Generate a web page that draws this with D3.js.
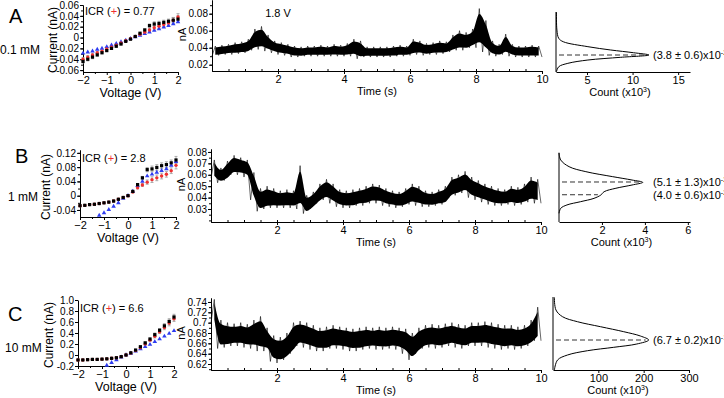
<!DOCTYPE html>
<html><head><meta charset="utf-8">
<script src="https://cdn.jsdelivr.net/npm/d3@7"></script>
<style>body{margin:0;background:#fff}svg{display:block}</style>
</head><body>
<svg id="c" width="724" height="398"></svg>
<script>
// ---------------- DATA ----------------
const voltages = [-2,-1.8,-1.6,-1.4,-1.2,-1,-0.8,-0.6,-0.4,-0.2,0,0.2,0.4,0.6,0.8,1,1.2,1.4,1.6,1.8,2];
const voltTicks = [-2,-1,0,1,2];

// IV curves (nA)
const ivA_black = [-0.044,-0.040,-0.036,-0.032,-0.028,-0.024,-0.020,-0.016,-0.012,-0.007,-0.003,0.002,0.008,0.014,0.022,0.025,0.026,0.028,0.030,0.032,0.034];
const ivA_red   = [-0.040,-0.036,-0.032,-0.028,-0.025,-0.021,-0.018,-0.014,-0.010,-0.006,-0.002,0.002,0.006,0.010,0.014,0.018,0.021,0.024,0.027,0.032,0.038];
const ivA_blue  = [-0.029,-0.027,-0.025,-0.022,-0.020,-0.017,-0.014,-0.011,-0.008,-0.005,-0.002,0.001,0.004,0.007,0.010,0.013,0.016,0.019,0.022,0.025,0.029];
const ivA_err   = [0.003,0.003,0.003,0.002,0.002,0.002,0.002,0.002,0.001,0.001,0.001,0.001,0.001,0.002,0.003,0.004,0.004,0.004,0.004,0.005,0.006];

const ivB_black = [-0.028,-0.027,-0.025,-0.024,-0.022,-0.020,-0.018,-0.015,-0.010,-0.005,0,0.012,0.031,0.050,0.073,0.075,0.079,0.084,0.087,0.092,0.100];
const ivB_red   = [-0.028,-0.027,-0.025,-0.024,-0.022,-0.020,-0.018,-0.015,-0.010,-0.005,0,0.010,0.022,0.030,0.038,0.045,0.050,0.055,0.060,0.070,0.085];
const ivB_blue  = [-0.090,-0.080,-0.071,-0.063,-0.055,-0.048,-0.039,-0.030,-0.020,-0.008,0,0.012,0.028,0.040,0.055,0.060,0.065,0.070,0.075,0.085,0.095];
const ivB_err   = [0.002,0.002,0.002,0.002,0.002,0.002,0.002,0.002,0.002,0.002,0.002,0.002,0.003,0.004,0.006,0.008,0.008,0.008,0.008,0.008,0.010];

const ivC_black = [-0.09,-0.09,-0.085,-0.08,-0.08,-0.075,-0.07,-0.06,-0.05,-0.03,0,0.04,0.09,0.15,0.22,0.29,0.37,0.45,0.53,0.61,0.69];
const ivC_red   = [-0.09,-0.09,-0.085,-0.08,-0.08,-0.075,-0.07,-0.06,-0.05,-0.03,0,0.035,0.08,0.13,0.20,0.27,0.34,0.42,0.50,0.58,0.66];
const ivC_blue  = [-0.35,-0.33,-0.31,-0.29,-0.26,-0.23,-0.19,-0.14,-0.09,-0.04,0,0.03,0.07,0.11,0.15,0.19,0.24,0.29,0.34,0.39,0.44];
const ivC_err   = [0.01,0.01,0.01,0.01,0.01,0.01,0.01,0.01,0.01,0.01,0.01,0.01,0.01,0.015,0.02,0.02,0.03,0.03,0.04,0.05,0.05];

const ivTicksA = [-0.06,-0.04,-0.02,0,0.02,0.04,0.06];
const ivTicksB = [-0.04,0,0.04,0.08,0.12];
const ivTicksC = [-0.2,0,0.2,0.4,0.6,0.8,1.0];
const ivLabelsC = ["-0.2","0","0.2","0.4","0.6","0.8","1.0"];

const icrValues = ["0.77","2.8","6.6"];
const concentrations = ["0.1 mM","1 mM","10 mM"];
const panelLetters = ["A","B","C"];

// Current traces: envelope (low/high) per 0.2 s bin
const traceTimes = [0,0.2,0.4,0.6,0.8,1,1.2,1.4,1.6,1.8,2,2.2,2.4,2.6,2.8,3,3.2,3.4,3.6,3.8,4,4.2,4.4,4.6,4.8,5,5.2,5.4,5.6,5.8,6,6.2,6.4,6.6,6.8,7,7.2,7.4,7.6,7.8,8,8.2,8.4,8.6,8.8,9,9.2,9.4,9.6,9.8];
const timeTicks = [2,4,6,8,10];

const traceA_lo = [0.030,0.031,0.032,0.032,0.033,0.034,0.037,0.038,0.036,0.034,0.032,0.031,0.029,0.029,0.030,0.030,0.030,0.030,0.030,0.030,0.030,0.030,0.027,0.029,0.029,0.029,0.029,0.029,0.030,0.030,0.031,0.032,0.031,0.032,0.032,0.033,0.035,0.037,0.037,0.040,0.040,0.035,0.031,0.030,0.032,0.030,0.029,0.029,0.029,0.029];
const traceA_hi = [0.042,0.043,0.044,0.046,0.047,0.050,0.062,0.065,0.055,0.048,0.046,0.044,0.042,0.041,0.042,0.042,0.043,0.042,0.044,0.043,0.045,0.050,0.048,0.041,0.041,0.041,0.041,0.042,0.043,0.042,0.050,0.048,0.045,0.046,0.048,0.047,0.055,0.060,0.058,0.062,0.086,0.072,0.048,0.044,0.056,0.044,0.042,0.042,0.043,0.042];

const traceB_lo = [0.057,0.053,0.055,0.060,0.060,0.058,0.038,0.028,0.030,0.031,0.031,0.031,0.031,0.030,0.026,0.030,0.035,0.038,0.035,0.032,0.031,0.031,0.033,0.033,0.035,0.035,0.033,0.032,0.031,0.032,0.034,0.033,0.032,0.032,0.033,0.034,0.040,0.042,0.044,0.040,0.038,0.036,0.034,0.033,0.033,0.034,0.033,0.034,0.036,0.035];
const traceB_hi = [0.073,0.066,0.072,0.077,0.075,0.073,0.062,0.048,0.050,0.048,0.046,0.047,0.046,0.068,0.042,0.045,0.052,0.056,0.052,0.047,0.046,0.047,0.048,0.050,0.052,0.051,0.048,0.046,0.045,0.048,0.052,0.050,0.046,0.045,0.047,0.050,0.058,0.060,0.063,0.058,0.055,0.052,0.050,0.048,0.047,0.050,0.049,0.052,0.058,0.056];

const traceC_lo = [0.700,0.650,0.652,0.655,0.655,0.652,0.650,0.645,0.645,0.625,0.622,0.628,0.640,0.655,0.652,0.648,0.645,0.645,0.650,0.650,0.648,0.645,0.645,0.648,0.650,0.648,0.648,0.650,0.648,0.640,0.628,0.640,0.650,0.652,0.650,0.652,0.655,0.652,0.650,0.655,0.655,0.655,0.652,0.650,0.648,0.650,0.648,0.650,0.655,0.665];
const traceC_hi = [0.745,0.705,0.700,0.698,0.700,0.697,0.705,0.712,0.690,0.675,0.672,0.680,0.700,0.703,0.700,0.695,0.690,0.692,0.695,0.692,0.690,0.688,0.690,0.692,0.690,0.692,0.690,0.692,0.690,0.688,0.680,0.690,0.695,0.697,0.695,0.698,0.700,0.697,0.695,0.700,0.700,0.702,0.700,0.697,0.695,0.695,0.692,0.695,0.705,0.730];

const traceTicksA = [0.02,0.04,0.06,0.08];
const traceTicksB = [0.03,0.04,0.05,0.06,0.07,0.08];
const traceTicksC = [0.62,0.64,0.66,0.68,0.7,0.72,0.74];

// Histograms: current (nA) vs count (x10^3)
const histA_current = [0.0886,0.0674,0.0576,0.0536,0.0478,0.0439,0.0407,0.0380,0.0353,0.0321,0.0282,0.0242,0.0184];
const histA_count   = [1.65,1.70,1.90,2.40,5.10,7.60,10.1,11.8,8.70,5.10,2.90,1.90,1.65];
const histB_current = [0.0763,0.0700,0.0642,0.0599,0.0556,0.0527,0.0507,0.0484,0.0456,0.0426,0.0398,0.0369,0.0340,0.0312,0.0283,0.0240];
const histB_count   = [0,0.08,0.47,1.25,2.5,3.4,3.9,3.4,2.65,2.1,1.95,1.63,1.0,0.37,0.08,0];
const histC_current = [0.7526,0.7281,0.7151,0.7054,0.6957,0.6861,0.6777,0.6700,0.6623,0.6559,0.6493,0.6410,0.6313,0.6119];
const histC_count   = [3,6.5,21,54,105,156,193,211,185,134,76,32,10,3];

const histTicksA = [5,10,15];
const histTicksB = [2,4,6];
const histTicksC = [100,200,300];

const peaksA = [{v:0.038, c:11.8, label:"(3.8 ± 0.6)x10", exp:"-2"}];
const peaksB = [{v:0.051, c:3.9, label:"(5.1 ± 1.3)x10", exp:"-2"},{v:0.040, c:1.95, label:"(4.0 ± 0.6)x10", exp:"-2"}];
const peaksC = [{v:0.67, c:211, label:"(6.7 ± 0.2)x10", exp:"-1"}];

// ---------------- DRAWING ----------------
const FONT = "'Liberation Sans', Arial, Helvetica, sans-serif";
const svg = d3.select("#c").attr("font-family", FONT);
const RED = "#ee2f2f", BLUE = "#2e3cf0", GRAY = "#9a9a9a";

function styleAxis(g, fs){
  g.attr("font-family", FONT).attr("font-size", fs || 10);
  g.selectAll("path,line").attr("stroke","#000").attr("stroke-width",1);
  g.selectAll("text").attr("fill","#000");
  return g;
}

function text(x, y, str, opts){
  opts = opts || {};
  const t = svg.append("text").attr("x",x).attr("y",y).text(str)
    .attr("font-size", opts.size || 11).attr("fill","#000")
    .attr("text-anchor", opts.anchor || "start");
  if (opts.rotate) t.attr("transform",`rotate(-90,${x},${y})`);
  return t;
}

const layouts = [
  {iv:{x0:83,x1:178,yTop:5,yBot:72,dom:[-0.0635,0.06],ticks:ivTicksA,labels:ivTicksA.map(String),minor:0.01},
   ivData:[ivA_blue,ivA_red,ivA_black], err:ivA_err,
   tr:{x0:212,x1:542,yTop:0,yBot:71,dom:[0.0126,0.0961],ticks:traceTicksA,minor:0.01}, lo:traceA_lo, hi:traceA_hi,
   h:{x0:556,x1:690,yTop:12,yBot:72,cdom:[1.6,16.3],vdom:[0.018,0.0886],ticks:histTicksA}, hc:histA_current, hn:histA_count, peaks:peaksA,
   letter:{x:9,y:23}, conc:{x:0,y:54}, icr:{x:85,y:15}, curLab:{x:57,y:40}},
  {iv:{x0:80,x1:176,yTop:150,yBot:217,dom:[-0.0597,0.128],ticks:ivTicksB,labels:ivTicksB.map(String),minor:0.02},
   ivData:[ivB_blue,ivB_red,ivB_black], err:ivB_err,
   tr:{x0:211,x1:541,yTop:149,yBot:222,dom:[0.0186,0.0826],ticks:traceTicksB,minor:0.005}, lo:traceB_lo, hi:traceB_hi,
   h:{x0:559,x1:690,yTop:153,yBot:222,cdom:[0,6.1],vdom:[0.0165,0.0760],ticks:histTicksB}, hc:histB_current, hn:histB_count, peaks:peaksB,
   letter:{x:15,y:163}, conc:{x:8,y:201}, icr:{x:82,y:162}, curLab:{x:50,y:187}},
  {iv:{x0:78,x1:174,yTop:300,yBot:366,dom:[-0.2,1.0],ticks:ivTicksC,labels:ivLabelsC,minor:null},
   ivData:[ivC_blue,ivC_red,ivC_black], err:ivC_err,
   tr:{x0:211,x1:541,yTop:298,yBot:370,dom:[0.6084,0.7477],ticks:traceTicksC,minor:0.01}, lo:traceC_lo, hi:traceC_hi,
   h:{x0:553,x1:689,yTop:297,yBot:370,cdom:[0,300],vdom:[0.612,0.7532],ticks:histTicksC}, hc:histC_current, hn:histC_count, peaks:peaksC,
   letter:{x:8,y:321}, conc:{x:5,y:352}, icr:{x:80,y:312}, curLab:{x:53,y:335}}
];

layouts.forEach((L, pi) => {
  // ---------- IV plot ----------
  const p = L.iv;
  const x = d3.scaleLinear().domain([-2,2]).range([p.x0,p.x1]);
  const y = d3.scaleLinear().domain(p.dom).range([p.yBot,p.yTop]);
  if (p.minor){
    const mv = d3.range(Math.ceil(p.dom[0]/p.minor)*p.minor, p.dom[1]+1e-9, p.minor).filter(v=>v>=p.dom[0]-1e-9);
    styleAxis(svg.append("g").attr("transform",`translate(${p.x0},0)`)
      .call(d3.axisLeft(y).tickValues(mv).tickFormat("").tickSize(2).tickSizeOuter(0)));
  }
  styleAxis(svg.append("g").attr("transform",`translate(${p.x0},0)`)
    .call(d3.axisLeft(y).tickValues(p.ticks).tickFormat((d,i)=>p.labels[i]).tickSize(3).tickSizeOuter(0).tickPadding(1)));
  styleAxis(svg.append("g").attr("transform",`translate(0,${p.yBot})`)
    .call(d3.axisBottom(x).tickValues([-1.5,-0.5,0.5,1.5]).tickFormat("").tickSize(2).tickSizeOuter(0)));
  styleAxis(svg.append("g").attr("transform",`translate(0,${p.yBot})`)
    .call(d3.axisBottom(x).tickValues(voltTicks).tickFormat(d3.format("d")).tickSize(3).tickSizeOuter(0).tickPadding(1)), 11);

  const inDom = v => v >= p.dom[0] && v <= p.dom[1];
  const eg = svg.append("g").attr("stroke",GRAY).attr("stroke-width",0.8);
  [L.ivData[1], L.ivData[2]].forEach(ser => {
    ser.forEach((v,i) => {
      if (!inDom(v)) return;
      const e = L.err[i], cx = x(voltages[i]);
      const y1 = y(Math.min(p.dom[1], v+e)), y2 = y(Math.max(p.dom[0], v-e));
      eg.append("line").attr("x1",cx).attr("x2",cx).attr("y1",y1).attr("y2",y2);
      eg.append("line").attr("x1",cx-1.5).attr("x2",cx+1.5).attr("y1",y1).attr("y2",y1);
      eg.append("line").attr("x1",cx-1.5).attr("x2",cx+1.5).attr("y1",y2).attr("y2",y2);
    });
  });
  const pts = (ser) => ser.map((v,i)=>({v:voltages[i], i:v})).filter(d=>inDom(d.i));
  svg.append("g").selectAll("path").data(pts(L.ivData[0])).join("path")
    .attr("d", d3.symbol(d3.symbolTriangle, 9))
    .attr("transform", d=>`translate(${x(d.v)},${y(d.i)})`).attr("fill",BLUE);
  svg.append("g").selectAll("circle").data(pts(L.ivData[1])).join("circle")
    .attr("cx", d=>x(d.v)).attr("cy", d=>y(d.i)).attr("r",1.7).attr("fill",RED);
  svg.append("g").selectAll("rect").data(pts(L.ivData[2])).join("rect")
    .attr("x", d=>x(d.v)-1.6).attr("y", d=>y(d.i)-1.6).attr("width",3.2).attr("height",3.2).attr("fill","#000");

  text(L.letter.x, L.letter.y, panelLetters[pi], {size:20});
  text(L.conc.x, L.conc.y, concentrations[pi], {size:12});
  const icr = svg.append("text").attr("x",L.icr.x).attr("y",L.icr.y).attr("font-size",11).attr("fill","#000");
  icr.append("tspan").text("ICR (");
  icr.append("tspan").text("+").attr("fill",RED);
  icr.append("tspan").text(") = " + icrValues[pi]);
  text(L.curLab.x, L.curLab.y, "Current (nA)", {size:12, anchor:"middle", rotate:true});
  text((p.x0+p.x1)/2, p.yBot+25, "Voltage (V)", {size:12.5, anchor:"middle"});

  // ---------- Trace ----------
  const t = L.tr;
  const tx = d3.scaleLinear().domain([0,10]).range([t.x0,t.x1]);
  const ty = d3.scaleLinear().domain(t.dom).range([t.yBot,t.yTop]);
  const zig = [];
  traceTimes.forEach((tt,i)=>{ zig.push([tt, L.lo[i]]); zig.push([tt+0.1, L.hi[i]]); });
  zig.push([10, L.lo[L.lo.length-1]]);
  const core = traceTimes.map((tt,i)=>({t:tt+0.1, a:L.lo[i]+(L.hi[i]-L.lo[i])*0.14, b:L.hi[i]-(L.hi[i]-L.lo[i])*0.14}));
  svg.append("path").datum(core)
    .attr("d", d3.area().x(d=>tx(d.t)).y0(d=>ty(d.a)).y1(d=>ty(d.b)).curve(d3.curveMonotoneX))
    .attr("fill","#000");
  svg.append("path").datum(zig)
    .attr("d", d3.line().x(d=>tx(d[0])).y(d=>ty(d[1])))
    .attr("fill","none").attr("stroke","#000").attr("stroke-width",0.6);

  const tmv = d3.range(Math.ceil(t.dom[0]/t.minor)*t.minor, t.dom[1], t.minor);
  styleAxis(svg.append("g").attr("transform",`translate(${t.x0},0)`)
    .call(d3.axisLeft(ty).tickValues(tmv).tickFormat("").tickSize(2).tickSizeOuter(0)));
  styleAxis(svg.append("g").attr("transform",`translate(${t.x0},0)`)
    .call(d3.axisLeft(ty).tickValues(t.ticks).tickFormat(String).tickSize(3).tickSizeOuter(0).tickPadding(1)), 10);
  styleAxis(svg.append("g").attr("transform",`translate(0,${t.yBot})`)
    .call(d3.axisBottom(tx).tickValues(d3.range(0.5,10,0.5)).tickFormat("").tickSize(-2).tickSizeOuter(0)));
  styleAxis(svg.append("g").attr("transform",`translate(0,${t.yBot})`)
    .call(d3.axisBottom(tx).tickValues(timeTicks).tickFormat(String).tickSize(3).tickSizeOuter(0).tickPadding(1)), 11);
  text(t.x0-26, (t.yTop+t.yBot)/2 - 1, "nA", {size:11, anchor:"middle", rotate:true});
  text(tx(5), t.yBot+24, "Time (s)", {size:11, anchor:"middle"});
  if (pi === 0) text(tx(2), 17, "1.8 V", {size:11, anchor:"middle"});

  // ---------- Histogram ----------
  const h = L.h;
  const hx = d3.scaleLinear().domain(h.cdom).range([h.x0,h.x1]);
  const hy = d3.scaleLinear().domain(h.vdom).range([h.yBot,h.yTop]);
  svg.append("line").attr("x1",h.x0).attr("x2",h.x0).attr("y1",h.yTop).attr("y2",h.yBot).attr("stroke","#000");
  styleAxis(svg.append("g").attr("transform",`translate(0,${h.yBot})`)
    .call(d3.axisBottom(hx).tickValues(h.ticks).tickFormat(String).tickSize(3).tickSizeOuter(0).tickPadding(1)), 11);
  const hpts = L.hc.map((v,i)=>[L.hn[i], v]);
  svg.append("path").datum(hpts)
    .attr("d", d3.line().x(d=>hx(d[0])).y(d=>hy(d[1])).curve(d3.curveCatmullRom.alpha(0.5)))
    .attr("fill","none").attr("stroke","#000").attr("stroke-width",1);
  L.peaks.forEach(pk => {
    svg.append("line").attr("x1",h.x0+3).attr("x2",hx(pk.c)-3).attr("y1",hy(pk.v)).attr("y2",hy(pk.v))
      .attr("stroke","#333").attr("stroke-width",1).attr("stroke-dasharray","5,3");
    const tt = svg.append("text").attr("x",653).attr("y",hy(pk.v)+4).attr("font-size",11).attr("fill","#000");
    tt.append("tspan").text(pk.label);
    tt.append("tspan").text(pk.exp).attr("font-size",7).attr("dy",-4);
  });
  const cl = svg.append("text").attr("x",(h.x0+h.x1)/2-3).attr("y",h.yBot+24).attr("font-size",11)
    .attr("text-anchor","middle").attr("fill","#000");
  cl.append("tspan").text("Count (x10");
  cl.append("tspan").text("3").attr("font-size",7).attr("dy",-4);
  cl.append("tspan").text(")").attr("dy",4);
});
</script>
</body></html>
